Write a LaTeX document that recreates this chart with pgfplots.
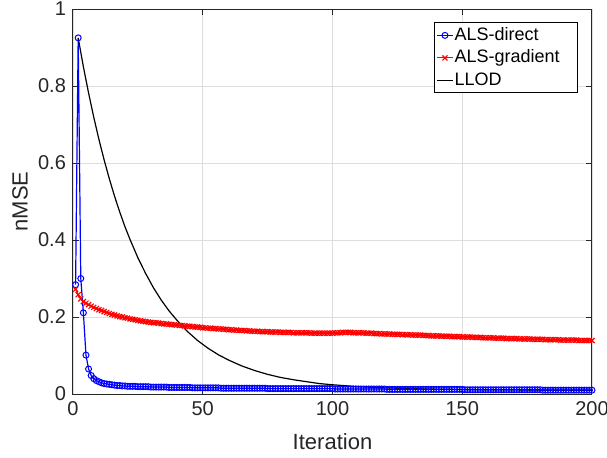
\documentclass[border=0pt]{standalone}
\usepackage{pgfplots}
\pgfplotsset{compat=1.18}
\usepackage{pgfplotstable}
\usepackage{fontspec}
\setmainfont{Liberation Sans}
\definecolor{axgray}{rgb}{0.15,0.15,0.15}
\definecolor{gridgray}{rgb}{0.87,0.87,0.87}

\pgfplotstableread{
it d g
1 0.284 0.272
2 0.925 0.258
3 0.300 0.247
4 0.211 0.240
5 0.101 0.236
6 0.065 0.232
7 0.048 0.228
8 0.040 0.225
9 0.035 0.222
10 0.032 0.219
11 0.029 0.217
12 0.027 0.214
13 0.026 0.212
14 0.025 0.209
15 0.024 0.207
16 0.023 0.205
17 0.022 0.203
18 0.022 0.201
19 0.021 0.200
20 0.021 0.198
21 0.020 0.197
22 0.020 0.195
23 0.020 0.194
24 0.020 0.193
25 0.019 0.191
26 0.019 0.190
27 0.019 0.189
28 0.019 0.188
29 0.019 0.187
30 0.018 0.186
31 0.018 0.185
32 0.018 0.185
33 0.018 0.184
34 0.018 0.183
35 0.018 0.182
36 0.018 0.182
37 0.017 0.181
38 0.017 0.180
39 0.017 0.180
40 0.017 0.179
41 0.017 0.178
42 0.017 0.178
43 0.017 0.177
44 0.017 0.176
45 0.017 0.176
46 0.016 0.175
47 0.016 0.174
48 0.016 0.174
49 0.016 0.173
50 0.016 0.172
51 0.016 0.172
52 0.016 0.171
53 0.016 0.171
54 0.016 0.170
55 0.016 0.170
56 0.016 0.169
57 0.015 0.169
58 0.015 0.168
59 0.015 0.168
60 0.015 0.167
61 0.015 0.167
62 0.015 0.166
63 0.015 0.166
64 0.015 0.165
65 0.015 0.165
66 0.015 0.165
67 0.015 0.164
68 0.015 0.164
69 0.015 0.163
70 0.015 0.163
71 0.015 0.163
72 0.015 0.162
73 0.015 0.162
74 0.015 0.162
75 0.014 0.162
76 0.014 0.161
77 0.014 0.161
78 0.014 0.161
79 0.014 0.161
80 0.014 0.160
81 0.014 0.160
82 0.014 0.160
83 0.014 0.160
84 0.014 0.160
85 0.014 0.159
86 0.014 0.159
87 0.014 0.159
88 0.014 0.159
89 0.014 0.159
90 0.014 0.159
91 0.014 0.159
92 0.014 0.158
93 0.014 0.158
94 0.014 0.158
95 0.014 0.158
96 0.014 0.158
97 0.014 0.158
98 0.014 0.158
99 0.014 0.158
100 0.014 0.158
101 0.013 0.159
102 0.013 0.159
103 0.013 0.159
104 0.013 0.160
105 0.013 0.160
106 0.013 0.160
107 0.013 0.160
108 0.013 0.159
109 0.013 0.159
110 0.013 0.159
111 0.013 0.159
112 0.013 0.159
113 0.013 0.158
114 0.013 0.158
115 0.013 0.158
116 0.013 0.157
117 0.013 0.157
118 0.013 0.157
119 0.013 0.156
120 0.013 0.156
121 0.012 0.156
122 0.012 0.156
123 0.012 0.155
124 0.012 0.155
125 0.012 0.155
126 0.012 0.155
127 0.012 0.154
128 0.012 0.154
129 0.012 0.154
130 0.012 0.154
131 0.012 0.153
132 0.012 0.153
133 0.012 0.153
134 0.012 0.153
135 0.012 0.152
136 0.012 0.152
137 0.012 0.152
138 0.012 0.151
139 0.012 0.151
140 0.012 0.151
141 0.012 0.151
142 0.012 0.150
143 0.012 0.150
144 0.012 0.150
145 0.012 0.150
146 0.012 0.149
147 0.012 0.149
148 0.012 0.149
149 0.012 0.149
150 0.012 0.148
151 0.011 0.148
152 0.011 0.148
153 0.011 0.148
154 0.011 0.147
155 0.011 0.147
156 0.011 0.147
157 0.011 0.147
158 0.011 0.146
159 0.011 0.146
160 0.011 0.146
161 0.011 0.146
162 0.011 0.146
163 0.011 0.145
164 0.011 0.145
165 0.011 0.145
166 0.011 0.145
167 0.011 0.144
168 0.011 0.144
169 0.011 0.144
170 0.011 0.144
171 0.011 0.144
172 0.011 0.143
173 0.011 0.143
174 0.011 0.143
175 0.011 0.143
176 0.011 0.143
177 0.011 0.142
178 0.011 0.142
179 0.011 0.142
180 0.011 0.142
181 0.010 0.142
182 0.010 0.141
183 0.010 0.141
184 0.010 0.141
185 0.010 0.141
186 0.010 0.141
187 0.010 0.141
188 0.010 0.140
189 0.010 0.140
190 0.010 0.140
191 0.010 0.140
192 0.010 0.140
193 0.010 0.140
194 0.010 0.140
195 0.010 0.139
196 0.010 0.139
197 0.010 0.139
198 0.010 0.139
199 0.010 0.139
200 0.010 0.139
}\alsdata

\pgfplotstableread{
it v
2 0.925
4 0.850
6 0.782
8 0.719
10 0.661
12 0.608
14 0.559
16 0.514
18 0.473
20 0.435
22 0.401
25 0.354
28 0.313
31 0.276
34 0.244
37 0.216
40 0.192
44 0.163
48 0.139
52 0.119
56 0.102
60 0.088
65 0.073
70 0.061
75 0.051
80 0.043
85 0.037
90 0.032
95 0.027
100 0.024
110 0.019
120 0.016
130 0.014
140 0.0126
150 0.0117
160 0.0111
170 0.0107
180 0.0105
190 0.0103
200 0.0102
}\lloddata

\begin{document}
\begin{tikzpicture}
\begin{axis}[
  at={(0,0)}, anchor=south west,
  scale only axis, width=259.5pt, height=192.5pt,
  xmin=0, xmax=200, ymin=0, ymax=1,
  xtick={0,50,100,150,200}, ytick={0,0.2,0.4,0.6,0.8,1},
  grid=major, major grid style={gridgray, line width=0.4pt},
  axis line style={axgray, line width=0.5pt}, tick style={axgray, line width=0.5pt},
  tick align=inside, tick pos=both,
  major tick length=3pt,
  tick label style={font=\fontsize{10}{12}\selectfont, text=axgray},
  /pgf/number format/assume math mode=true,
  xlabel={Iteration}, ylabel={nMSE},
  label style={font=\fontsize{11}{13}\selectfont, text=axgray},
  xlabel style={at={(axis description cs:0.5,-0.1234)}, anchor=center},
  ylabel style={at={(axis description cs:-0.102,0.5)}, anchor=center},
  legend style={at={(0.6956,0.965)}, anchor=north west,
    font=\fontsize{9}{11}\selectfont, draw=black, fill=white,
    inner xsep=1pt, inner ysep=1.25pt, line width=0.4pt,
    row sep=1.25pt, column sep=0pt,
    nodes={inner xsep=0.5pt, inner ysep=0.5pt, text height=7pt, text depth=2pt},
    cells={anchor=west}},
  legend image code/.code={\draw[mark repeat=2,mark phase=2,#1] plot coordinates {(0cm,0cm) (0.14cm,0cm) (0.28cm,0cm)};},
]
\addplot[blue, line width=0.6pt, mark=o, mark size=1.5pt, mark options={line width=0.5pt}] table[x=it, y=d] {\alsdata};
\addlegendentry{ALS-direct}
\addplot[red, line width=0.6pt, mark=x, mark size=1.8pt, mark options={line width=0.6pt}] table[x=it, y=g] {\alsdata};
\addlegendentry{ALS-gradient\rule{7.5pt}{0pt}}
\addplot[black, line width=0.6pt, no marks] table[x=it, y=v] {\lloddata};
\addlegendentry{LLOD}
\end{axis}
\pgfresetboundingbox
\path[use as bounding box] (-36.5pt,-31.5pt) rectangle (267pt,197pt);
\end{tikzpicture}
\end{document}
